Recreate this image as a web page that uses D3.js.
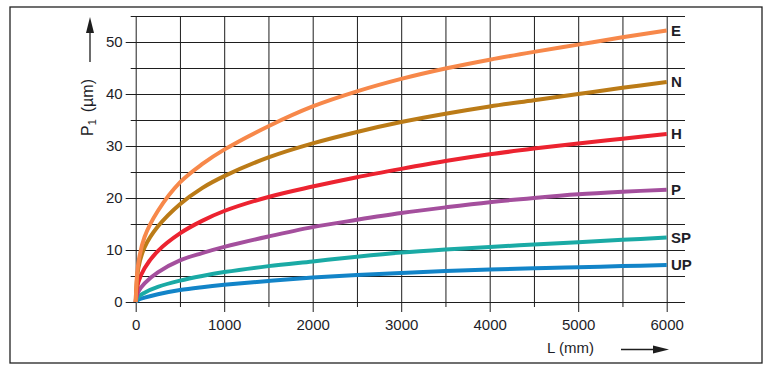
<!DOCTYPE html>
<html>
<head>
<meta charset="utf-8">
<script src="https://cdn.jsdelivr.net/npm/d3@7"></script>
<style>
body { margin: 0; background: #fff; }
text { font-family: "Liberation Sans", Arial, sans-serif; fill: #1e1e28; }
</style>
</head>
<body>
<svg id="chart" width="769" height="371"></svg>
<script>
// rail length L (mm) where the curves were read
const L = [0, 30, 100, 250, 500, 750, 1000, 1500, 2000, 2500, 3000, 3500, 4000, 4500, 5000, 5500, 6000]

// P1 (µm) per accuracy class
const E  = [0, 7.5, 12.5, 17.5, 23.0, 26.5, 29.3, 33.8, 37.6, 40.5, 42.9, 44.9, 46.6, 48.1, 49.5, 50.9, 52.2]
const N  = [0, 6.5, 10.5, 14.5, 18.8, 21.9, 24.2, 27.8, 30.5, 32.7, 34.6, 36.2, 37.6, 38.8, 40.0, 41.2, 42.3]
const H  = [0, 3.8, 6.5, 9.8, 13.2, 15.6, 17.5, 20.2, 22.2, 24.0, 25.6, 27.1, 28.4, 29.5, 30.5, 31.4, 32.3]
const P  = [0, 2.0, 3.6, 5.7, 8.0, 9.4, 10.6, 12.6, 14.4, 15.8, 17.1, 18.2, 19.2, 20.0, 20.7, 21.2, 21.6]
const SP = [0, 1.0, 1.8, 2.9, 4.1, 5.0, 5.75, 6.9, 7.8, 8.7, 9.5, 10.1, 10.6, 11.05, 11.5, 11.95, 12.4]
const UP = [0, 0.45, 0.85, 1.5, 2.3, 2.85, 3.3, 4.05, 4.7, 5.2, 5.6, 5.95, 6.25, 6.5, 6.7, 6.9, 7.1]

const classes = ["E", "N", "H", "P", "SP", "UP"]
const classColors = ["#f7884a", "#bb7b17", "#ec2330", "#a44f9d", "#1aaaa5", "#1284c8"]

const xMajor = [0, 1000, 2000, 3000, 4000, 5000, 6000]
const xMinor = [500, 1500, 2500, 3500, 4500, 5500]
const yMajor = [0, 10, 20, 30, 40, 50]
const yMinor = [5, 15, 25, 35, 45, 55]

const series = [E, N, H, P, SP, UP].map((vals, i) => ({
  name: classes[i],
  color: classColors[i],
  points: L.map((l, j) => [l, vals[j]])
}))

const svg = d3.select("#chart")
const gridRight = 685
const x = d3.scaleLinear().domain([0, 6000]).range([135.7, 666.7])
const y = d3.scaleLinear().domain([0, 55]).range([302, 16])

// outer frame
svg.append("rect")
  .attr("x", 10).attr("y", 7)
  .attr("width", 752).attr("height", 356)
  .attr("fill", "none").attr("stroke", "#222").attr("stroke-width", 1.3)

function styleAxis(g) {
  g.select(".domain").remove()
  g.selectAll(".tick line").attr("stroke", "#1e1e1e").attr("stroke-width", 1)
  g.selectAll(".tick text").attr("font-size", 15).attr("fill", "#1e1e28")
    .attr("font-family", "'Liberation Sans', Arial, sans-serif")
}

// vertical grid lines doubling as x ticks
svg.append("g").attr("transform", "translate(0," + y(55) + ")")
  .call(d3.axisBottom(x).tickValues(xMinor).tickSize(y(0) - y(55) + 5).tickFormat(""))
  .call(styleAxis)
svg.append("g").attr("transform", "translate(0," + y(55) + ")")
  .call(d3.axisBottom(x).tickValues(xMajor).tickSize(y(0) - y(55) + 10).tickPadding(7).tickFormat(d3.format("d")))
  .call(styleAxis)

// horizontal grid lines doubling as y ticks
svg.append("g").attr("transform", "translate(" + gridRight + ",0)")
  .call(d3.axisLeft(y).tickValues(yMinor).tickSize(gridRight - x(0) + 5).tickFormat(""))
  .call(styleAxis)
svg.append("g").attr("transform", "translate(" + gridRight + ",0)")
  .call(d3.axisLeft(y).tickValues(yMajor).tickSize(gridRight - x(0) + 10).tickPadding(3))
  .call(styleAxis)

// curves
const line = d3.line()
  .x(d => x(d[0]))
  .y(d => y(d[1]))
  .curve(d3.curveCatmullRom.alpha(0.5))

svg.append("g").selectAll("path").data(series.slice().reverse())
  .join("path")
    .attr("d", d => line(d.points))
    .attr("fill", "none")
    .attr("stroke", d => d.color)
    .attr("stroke-width", 4)

// class labels at line ends
svg.append("g").selectAll("text").data(series)
  .join("text")
    .attr("x", 671)
    .attr("y", d => y(d.points[d.points.length - 1][1]))
    .attr("dy", "0.35em")
    .attr("font-size", 15)
    .attr("font-weight", "bold")
    .text(d => d.name)

// y title with arrow
const yTitle = svg.append("text")
  .attr("transform", "translate(93,79) rotate(-90)")
  .attr("text-anchor", "end")
  .attr("font-size", 16)
yTitle.append("tspan").text("P")
yTitle.append("tspan").attr("font-size", 11).attr("dy", 3).text("1")
yTitle.append("tspan").attr("dy", -3).attr("dx", 7).text("(µm)")

svg.append("line")
  .attr("x1", 90).attr("x2", 90).attr("y1", 62).attr("y2", 30)
  .attr("stroke", "#1e1e1e").attr("stroke-width", 1.3)
svg.append("path")
  .attr("d", "M90,17L94,33L86,33Z")
  .attr("fill", "#1e1e1e")

// x title with arrow
svg.append("text")
  .attr("x", 547).attr("y", 353)
  .attr("font-size", 15)
  .text("L (mm)")
svg.append("line")
  .attr("x1", 621).attr("x2", 656).attr("y1", 349.5).attr("y2", 349.5)
  .attr("stroke", "#1e1e1e").attr("stroke-width", 1.3)
svg.append("path")
  .attr("d", "M669,349.5L653,345.5L653,353.5Z")
  .attr("fill", "#1e1e1e")
</script>
</body>
</html>
